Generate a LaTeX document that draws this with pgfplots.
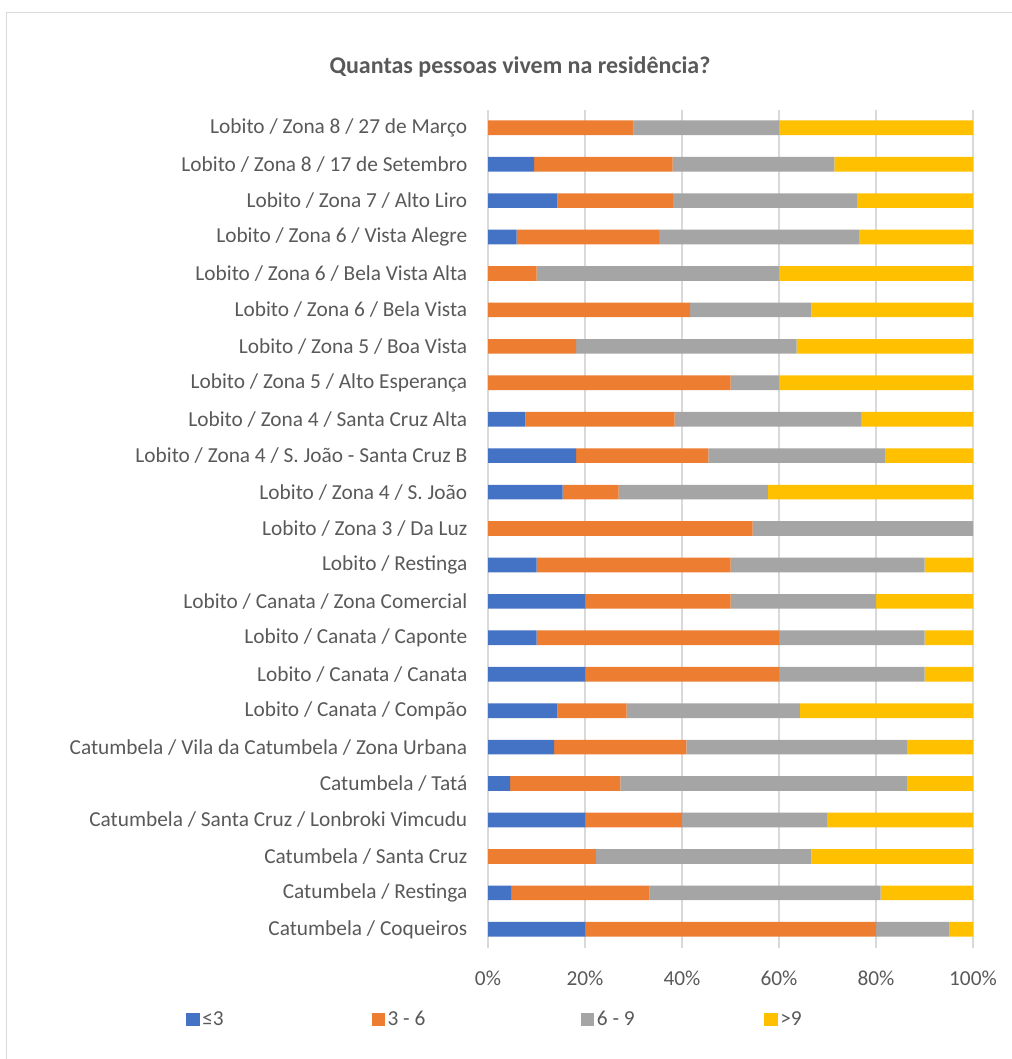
\documentclass[border=0pt]{standalone}
\usepackage{pgfplots}
\pgfplotsset{compat=1.18}
\usepackage{pgfplotstable}
\usepackage{fontspec}
\setmainfont{Carlito}
\definecolor{cA}{HTML}{4472C4}
\definecolor{cB}{HTML}{ED7D31}
\definecolor{cC}{HTML}{A5A5A5}
\definecolor{cD}{HTML}{FFC000}
\definecolor{txt}{HTML}{595959}
\definecolor{grd}{HTML}{D9D9D9}
\pgfplotstableread{
y a b c d
0 20 60 15 5
1 4.76 28.57 47.62 19.05
2 0 22.22 44.44 33.34
3 20 20 30 30
4 4.55 22.73 59.09 13.63
5 13.64 27.27 45.45 13.64
6 14.29 14.29 35.71 35.71
7 20 40 30 10
8 10 50 30 10
9 20 30 30 20
10 10 40 40 10
11 0 54.55 45.45 0
12 15.38 11.54 30.77 42.31
13 18.18 27.27 36.36 18.19
14 7.69 30.77 38.46 23.08
15 0 50 10 40
16 0 18.18 45.45 36.37
17 0 41.67 25 33.33
18 0 10 50 40
19 5.88 29.41 41.18 23.53
20 14.29 23.81 38.10 23.80
21 9.52 28.57 33.33 28.58
22 0 30 30 40
}\datatable
\begin{document}
\begin{tikzpicture}
\useasboundingbox (0pt,0pt) rectangle (758.25pt,794.25pt);
\draw[grd, line width=1pt] (4.9pt,-15pt) -- (4.9pt,784.9pt) -- (770pt,784.9pt);
\node[font=\fontsize{18pt}{21pt}\selectfont\bfseries, text=txt] at (390pt,744pt) {Quantas pessoas vivem na residência?};
\begin{axis}[
  at={(366pt,83.6pt)}, anchor=south west,
  scale only axis, width=363.75pt, height=628.5pt,
  xbar stacked, bar width=11pt,
  xmin=0, xmax=100, ymin=-0.5, ymax=22.5,
  xtick={0,20,40,60,80,100},
  xticklabels={0\%,20\%,40\%,60\%,80\%,100\%},
  ytick={0,...,22},
  yticklabels={
    Catumbela / Coqueiros,
    Catumbela / Restinga,
    Catumbela / Santa Cruz,
    Catumbela / Santa Cruz / Lonbroki Vimcudu,
    Catumbela / Tatá,
    Catumbela / Vila da Catumbela / Zona Urbana,
    Lobito / Canata / Compão,
    Lobito / Canata / Canata,
    Lobito / Canata / Caponte,
    Lobito / Canata / Zona Comercial,
    Lobito / Restinga,
    Lobito / Zona 3 / Da Luz,
    Lobito / Zona 4 / S. João,
    Lobito / Zona 4 / S. João - Santa Cruz B,
    Lobito / Zona 4 / Santa Cruz Alta,
    Lobito / Zona 5 / Alto Esperança,
    Lobito / Zona 5 / Boa Vista,
    Lobito / Zona 6 / Bela Vista,
    Lobito / Zona 6 / Bela Vista Alta,
    Lobito / Zona 6 / Vista Alegre,
    Lobito / Zona 7 / Alto Liro,
    Lobito / Zona 8 / 17 de Setembro,
    Lobito / Zona 8 / 27 de Março},
  axis line style={draw=none},
  tick style={draw=none},
  xmajorgrids, grid style={grd, line width=1.2pt},
  ticklabel style={font=\fontsize{16pt}{19pt}\selectfont, text=txt},
  yticklabel style={xshift=-12pt},
  xticklabel style={yshift=-14pt},
  legend columns=4,
  legend style={at={(-306/485, -72/838)}, anchor=west, draw=none, fill=none,
    font=\fontsize{16pt}{19pt}\selectfont, text=txt,
    nodes={inner sep=2pt, anchor=west}, column sep=0pt},
  legend image code/.code={\fill[#1] (0pt,-5pt) rectangle (10pt,5pt);},
]
\addplot[fill=cA, draw=none] table[x=a, y=y] {\datatable};
\addplot[fill=cB, draw=none] table[x=b, y=y] {\datatable};
\addplot[fill=cC, draw=none] table[x=c, y=y] {\datatable};
\addplot[fill=cD, draw=none] table[x=d, y=y] {\datatable};
\legend{\makebox[125pt][l]{≤3}, \makebox[143pt][l]{3 - 6}, \makebox[123.5pt][l]{6 - 9}, \makebox[40pt][l]{>9}}
\end{axis}
\end{tikzpicture}
\end{document}
